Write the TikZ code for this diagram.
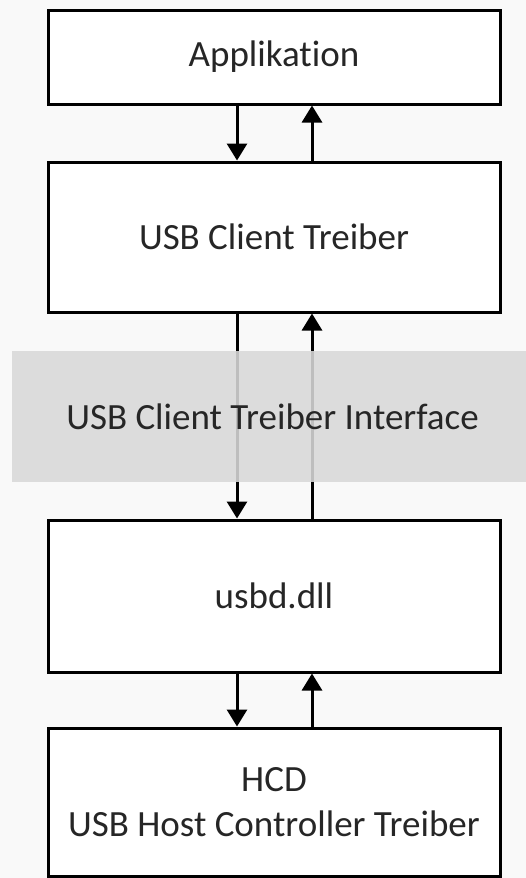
\documentclass[tikz,border=0pt]{standalone}
\usepackage{fontspec}
\setmainfont[Ligatures={NoCommon,NoContextual}]{Carlito}
\usetikzlibrary{arrows.meta}
\definecolor{bgc}{HTML}{F9F9F9}
\definecolor{bandc}{HTML}{D9D9D9}
\tikzset{
  lbl/.style={font=\fontsize{37}{45}\selectfont, text=black!85},
  box/.style={lbl, draw=black, line width=3pt, fill=white, minimum width=452pt, inner sep=0pt, align=center},
  band/.style={lbl, fill=bandc, fill opacity=0.88, text opacity=1, minimum width=514pt, minimum height=131pt, inner sep=0pt},
  arr/.style={line width=3pt, -{Triangle[width=20pt,length=17pt]}}
}
\begin{document}
\begin{tikzpicture}[x=1pt,y=-1pt]
\useasboundingbox (0,0) rectangle (526,878);
\fill[bgc] (0,0) rectangle (526,878);
\node[box, minimum height=94pt] (app) at (274,57) {Applikation};
\node[box, minimum height=150pt] (cli) at (274,237) {USB Client Treiber};
\node[box, minimum height=152pt] (usbd) at (274,596) {usbd.dll};
\node[box, minimum height=148pt] (hcd) at (274,802) {HCD\\USB Host Controller Treiber};
\coordinate (dl) at (237,0);
\coordinate (ul) at (312,0);
\draw[arr] (app.south -| dl) -- (cli.north -| dl);
\draw[arr] (cli.north -| ul) -- (app.south -| ul);
\draw[arr] (cli.south -| dl) -- (usbd.north -| dl);
\draw[arr] (usbd.north -| ul) -- (cli.south -| ul);
\draw[arr] (usbd.south -| dl) -- (hcd.north -| dl);
\draw[arr] (hcd.north -| ul) -- (usbd.south -| ul);
\node[band] (iface) at (269,416.5) {\hspace*{7pt}USB Client Treiber Interface};
\end{tikzpicture}
\end{document}
